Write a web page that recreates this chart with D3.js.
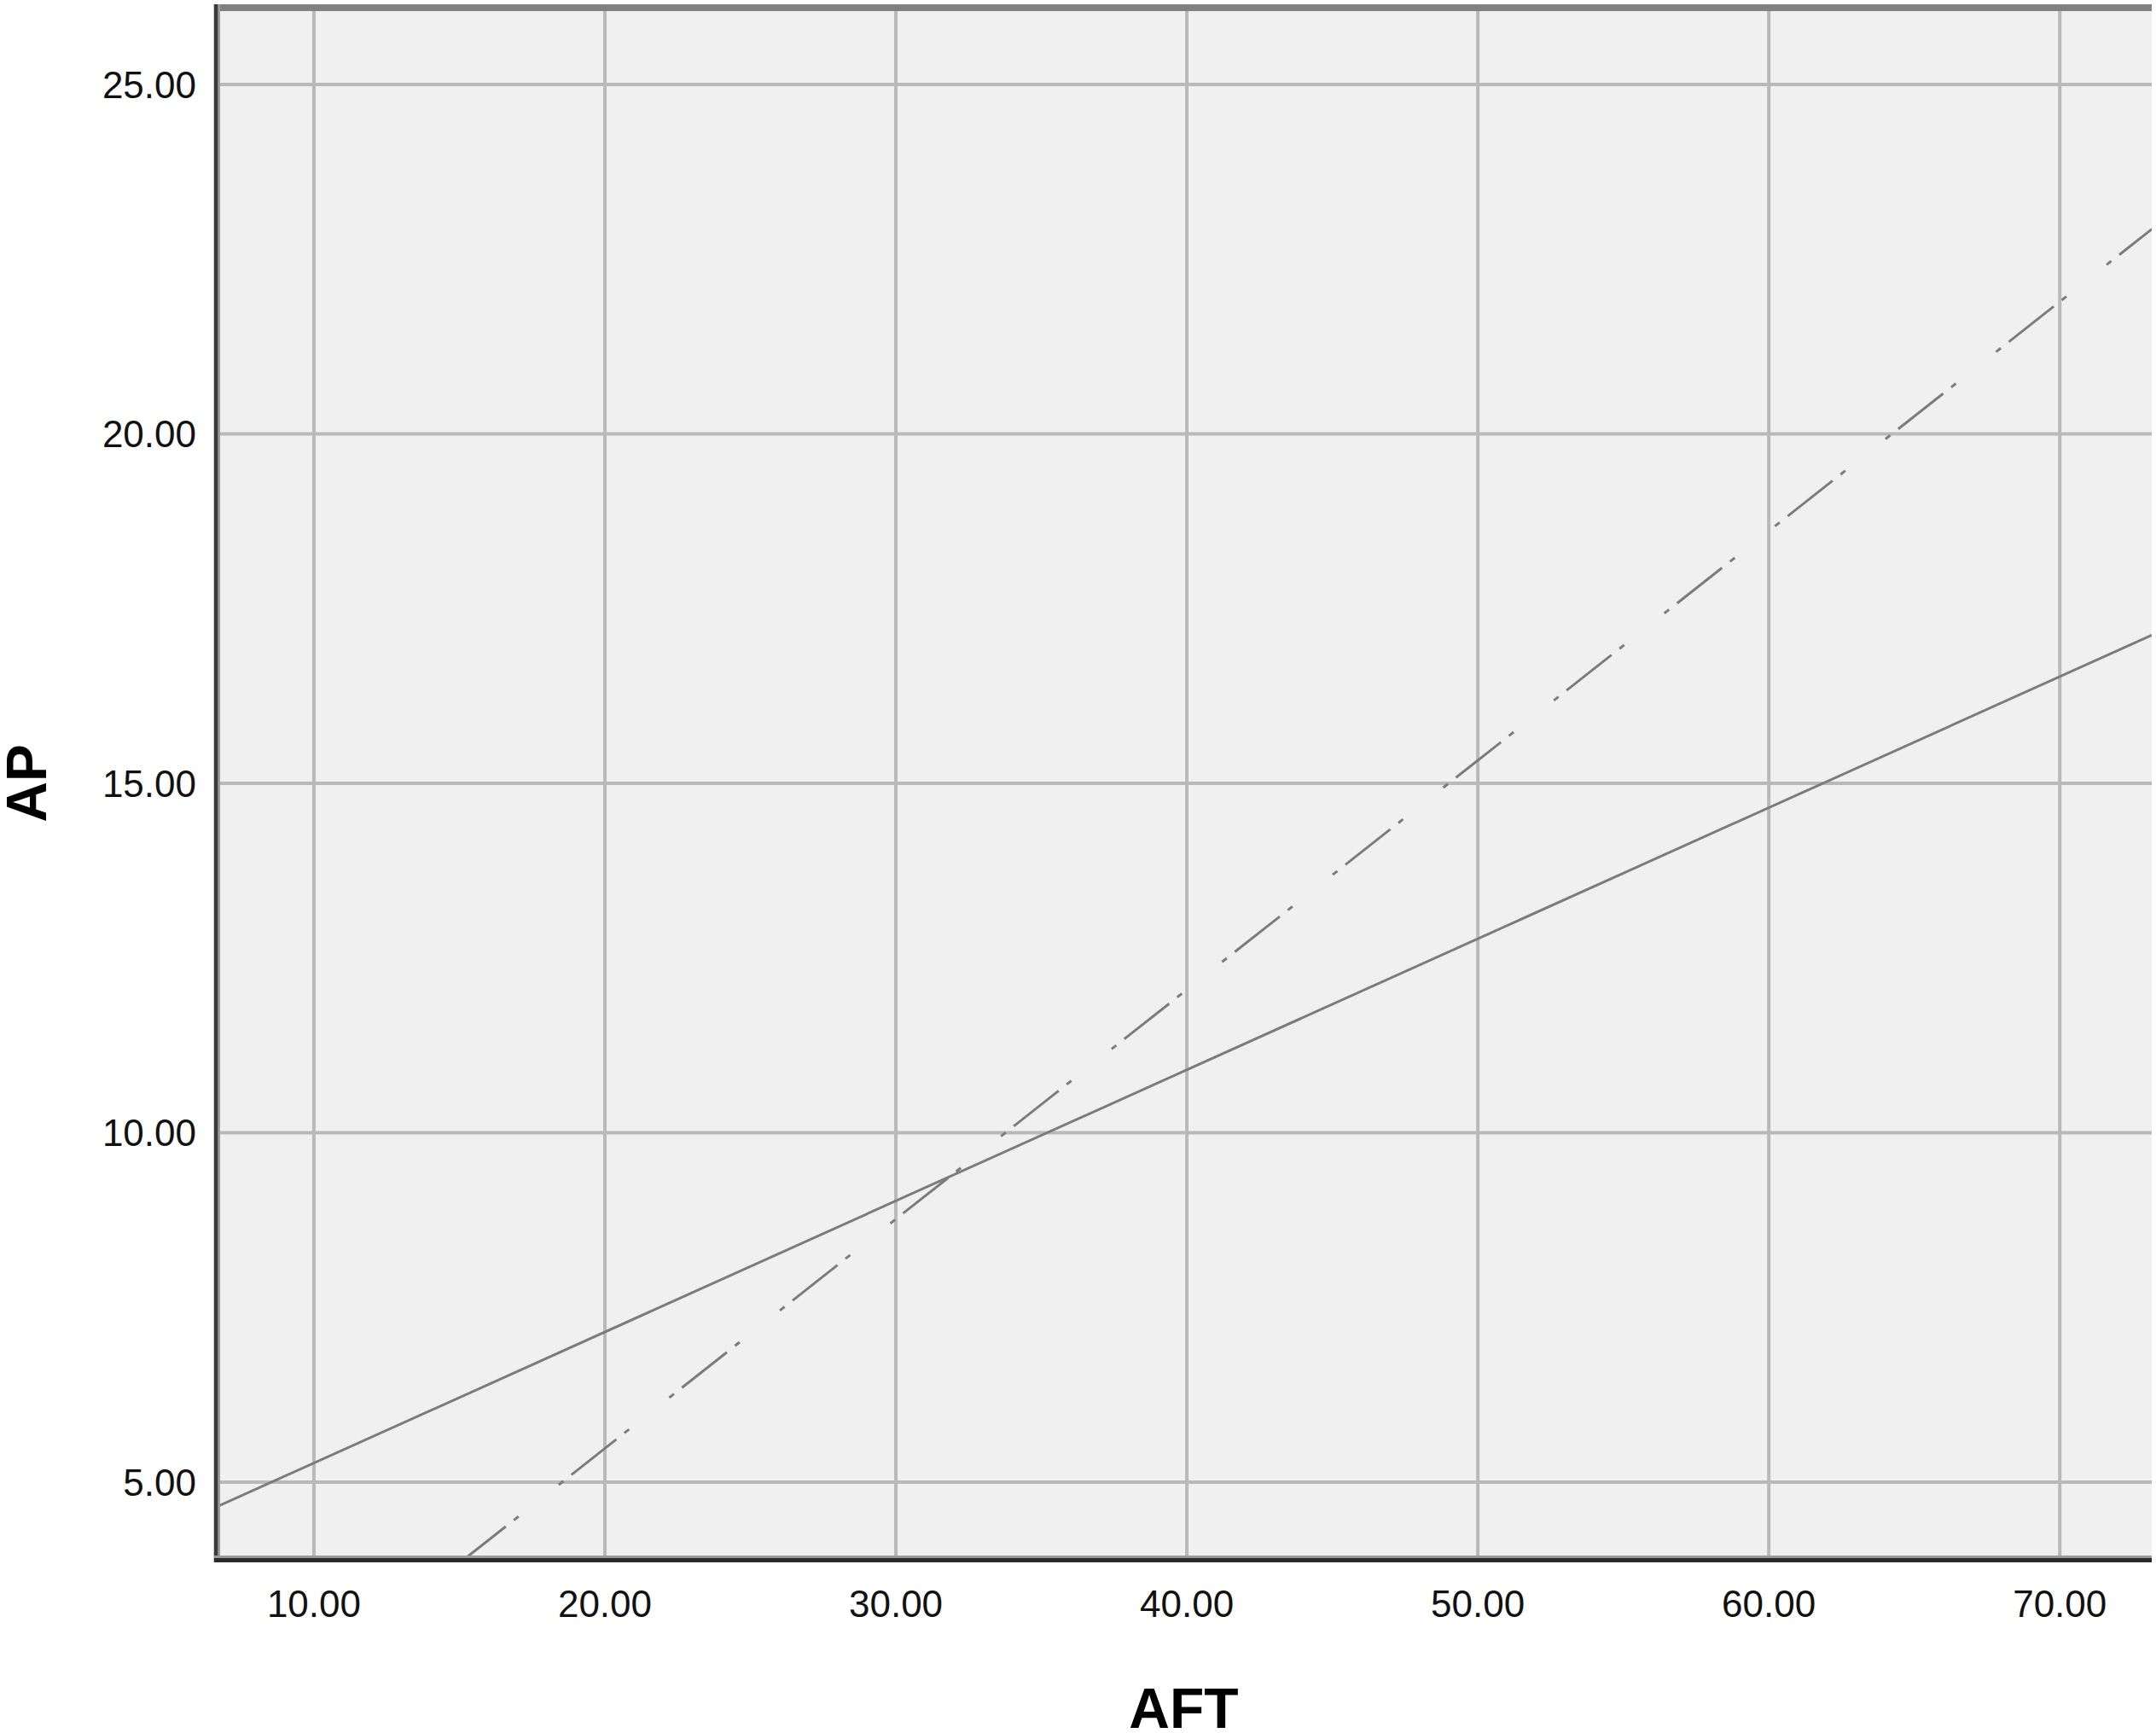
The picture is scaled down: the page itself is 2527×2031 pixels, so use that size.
<!DOCTYPE html>
<html>
<head>
<meta charset="utf-8">
<script src="https://cdn.jsdelivr.net/npm/d3@7"></script>
<style>
  html, body { margin: 0; padding: 0; background: #ffffff; }
  svg { display: block; }
  text { font-family: "Liberation Sans", Arial, sans-serif; }
</style>
</head>
<body>
<script>
// ---- Data ----
const xTicks = [10, 20, 30, 40, 50, 60, 70];
const yTicks = [5, 10, 15, 20, 25];
const xDomain = [6.63, 73.16];
const yDomain = [3.9, 26.1];
const xLabel = "AFT";
const yLabel = "AP";
// Fit line (solid): endpoints
const solidLine = [[6.63, 4.64], [73.16, 17.12]];
// Reference line (dash-dot-dot): endpoints
const dashLine = [[15.18, 3.9], [73.16, 22.93]];

// ---- Layout ----
const W = 2527, H = 2031;
const plot = { left: 253, right: 2522, top: 9, bottom: 1827 };

const svg = d3.select("body").append("svg").attr("width", W).attr("height", H);

const x = d3.scaleLinear().domain(xDomain).range([plot.left, plot.right]);
const y = d3.scaleLinear().domain(yDomain).range([plot.bottom, plot.top]);

// Background
svg.append("rect")
  .attr("x", plot.left).attr("y", plot.top)
  .attr("width", plot.right - plot.left).attr("height", plot.bottom - plot.top)
  .attr("fill", "#f0f0f0");

// Gridlines
const grid = svg.append("g");
grid.selectAll("line.v").data(xTicks).enter().append("line")
  .attr("x1", d => x(d)).attr("x2", d => x(d))
  .attr("y1", plot.top).attr("y2", plot.bottom)
  .attr("stroke", "#b9b9b9").attr("stroke-width", 4);
grid.selectAll("line.h").data(yTicks).enter().append("line")
  .attr("y1", d => y(d)).attr("y2", d => y(d))
  .attr("x1", plot.left).attr("x2", plot.right)
  .attr("stroke", "#b9b9b9").attr("stroke-width", 4);

// Clip
svg.append("clipPath").attr("id", "clip").append("rect")
  .attr("x", plot.left).attr("y", plot.top)
  .attr("width", plot.right - plot.left).attr("height", plot.bottom - plot.top);

const line = d3.line().x(d => x(d[0])).y(d => y(d[1]));
const lines = svg.append("g").attr("clip-path", "url(#clip)");
lines.append("path").datum(solidLine)
  .attr("d", line).attr("fill", "none")
  .attr("stroke", "#7c7c7c").attr("stroke-width", 3);
lines.append("path").datum(dashLine)
  .attr("d", line).attr("fill", "none")
  .attr("stroke", "#7c7c7c").attr("stroke-width", 3)
  .attr("stroke-dasharray", "67 12 7 60 7 12")
  .attr("stroke-dashoffset", 5.6);

// Frame: top border
svg.append("line")
  .attr("x1", plot.left).attr("x2", plot.right)
  .attr("y1", 9).attr("y2", 9)
  .attr("stroke", "#808080").attr("stroke-width", 8);
// Left axis line
svg.append("line")
  .attr("x1", 256.5).attr("x2", 256.5)
  .attr("y1", 5).attr("y2", 1831)
  .attr("stroke", "#9a9a9a").attr("stroke-width", 3);
svg.append("line")
  .attr("x1", 253).attr("x2", 253)
  .attr("y1", 5).attr("y2", 1831)
  .attr("stroke", "#3a3a3a").attr("stroke-width", 4.5);
// Bottom axis line
svg.append("line")
  .attr("x1", 251).attr("x2", plot.right)
  .attr("y1", 1824.5).attr("y2", 1824.5)
  .attr("stroke", "#9a9a9a").attr("stroke-width", 3);
svg.append("line")
  .attr("x1", 251).attr("x2", plot.right)
  .attr("y1", 1828.5).attr("y2", 1828.5)
  .attr("stroke", "#2a2a2a").attr("stroke-width", 5);

// Tick labels
svg.append("g").selectAll("text").data(yTicks).enter().append("text")
  .attr("x", 230).attr("y", d => y(d))
  .attr("dy", "0.36em")
  .attr("text-anchor", "end")
  .attr("font-size", 44).attr("fill", "#111")
  .text(d => d3.format(".2f")(d));
svg.append("g").selectAll("text").data(xTicks).enter().append("text")
  .attr("x", d => x(d)).attr("y", 1895)
  .attr("text-anchor", "middle")
  .attr("font-size", 44).attr("fill", "#111")
  .text(d => d3.format(".2f")(d));

// Axis titles
svg.append("text")
  .attr("x", (plot.left + plot.right) / 2).attr("y", 2025)
  .attr("text-anchor", "middle")
  .attr("font-size", 66).attr("font-weight", "bold").attr("fill", "#000")
  .text(xLabel);
svg.append("text")
  .attr("transform", `translate(54, ${(plot.top + plot.bottom) / 2}) rotate(-90)`)
  .attr("text-anchor", "middle")
  .attr("font-size", 66).attr("font-weight", "bold").attr("fill", "#000")
  .text(yLabel);
</script>
</body>
</html>
